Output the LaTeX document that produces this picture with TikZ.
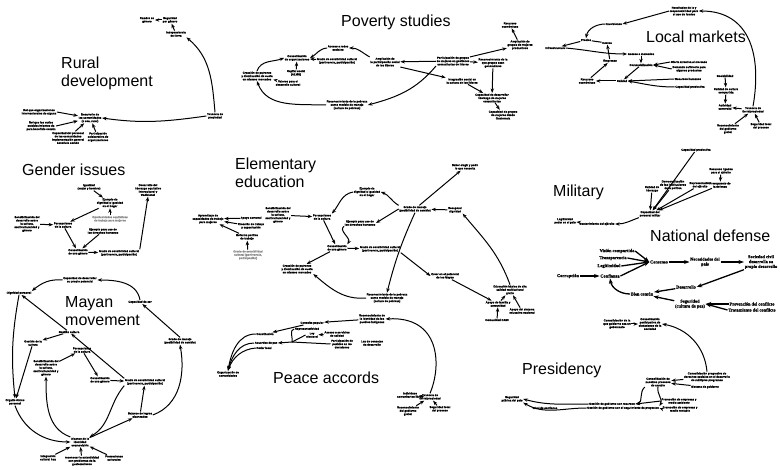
\documentclass[tikz,border=0pt]{standalone}
\usepackage{fontspec}
\setmainfont{Liberation Sans}
\newfontfamily\ndfont{Liberation Serif Bold}[FakeBold=0.6]
\newfontfamily\lbfnt{Liberation Sans Bold}[FakeBold=0.8]
\usetikzlibrary{arrows.meta}
\begin{document}
\begin{tikzpicture}[x=1pt,y=1pt,
 lb/.style={font=\lbfnt\fontsize{2.8}{3.3}\selectfont, align=center, inner sep=0.5pt},
 gl/.style={lb, text=black!45},
 nd/.style={font=\ndfont\fontsize{4.4}{4.9}\selectfont, align=center, inner sep=0.6pt},
 ttl/.style={font=\fontsize{16}{18.4}\selectfont, anchor=base west, inner sep=0pt},
 ar/.style={-{Stealth[length=4.5pt,width=3.4pt]}, line width=1pt},
 arb/.style={-{Stealth[length=5.5pt,width=4pt]}, line width=1.3pt},
 ln/.style={line width=1pt}]
\useasboundingbox (0,0) rectangle (780,-470);
\fill[white] (0,0) rectangle (780,-470);
% ---------------- titles
\node[ttl] (tR1) at (61,-68.2) {Rural};
\node[ttl] (tR2) at (61,-86.5) {development};
\node[ttl] (tP) at (341,-26.5) {Poverty studies};
\node[ttl] (tL) at (646,-42.5) {Local markets};
\node[ttl] (tG) at (22,-176) {Gender issues};
\node[ttl] (tE1) at (235,-170) {Elementary};
\node[ttl] (tE2) at (235,-188) {education};
\node[ttl] (tMi) at (553,-196.5) {Military};
\node[ttl] (tN) at (650,-241.5) {National defense};
\node[ttl] (tM1) at (65,-308) {Mayan};
\node[ttl] (tM2) at (65,-326) {movement};
\node[ttl] (tPa) at (273,-384) {Peace accords};
\node[ttl] (tPr) at (522,-375) {Presidency};
% ---------------- rural development
\node[lb] (r1) at (147,-20) {Cambio en\\género};
\node[lb] (r2) at (170,-20) {Seguridad\\por género};
\node[lb] (r3) at (176,-34) {Independencia\\de tierra};
\node[lb] (r4) at (215,-116) {Tenencia de\\propiedad};
\node[lb] (r5) at (90,-118) {Desarrollo de\\las comunidades\\(o sea, rural)};
\node[lb] (r6) at (39,-112) {Rol que organizaciones\\internacionales de alguna};
\node[lb] (r7) at (41,-126) {Rol que los varios\\establecimientos de\\para beneficio común};
\node[lb] (r8) at (68,-138) {Capacidad del personal\\de las comunidades\\implementación general\\beneficio común};
\node[lb] (r9) at (98,-137) {Participación\\colaborativa de\\organizaciones};
\draw[ar] (r2) -- (r1);
\draw[ar] (r3) -- (r2);
\draw[ar] (r4.north) to[out=95,in=-40] (r3.south east);
\draw[ar] (r4.west) to[out=188,in=-8] (r5.east);
\draw[ar] (r6.east) -- (r5);
\draw[ar] (r7.east) -- (r5);
\draw[ar] (r8) -- (r5);
\draw[ar] (r9) -- (r5);
% ---------------- poverty studies
\node[lb] (p1) at (338,-48) {Acceso a redes\\sociales};
\node[lb] (p2) at (297,-58) {Consolidación\\de organizaciones};
\node[lb] (p3) at (337,-61) {Grado de sensibilidad cultural\\(pertinencia, participación)};
\node[lb] (p4) at (385,-62) {Ampliación de\\la participación social\\de los líderes};
\node[lb] (p5) at (453,-61) {Participación de grupos\\de mujeres en gestiones\\comunitarias de líderes};
\node[lb] (p6) at (296,-73) {Capital social\\(ALMG)};
\node[lb] (p7) at (257,-76) {Creación de patrones\\y disminución de cuota\\en mismos mercados};
\node[lb] (p8) at (288,-83) {Valores para el\\desarrollo cultural};
\node[lb] (p9) at (347,-105) {Reconocimiento de la pobreza\\como modelo de manejo\\(cultura de pobreza)};
\node[lb] (p10) at (510,-25) {Recursos\\económicos};
\node[lb] (p11) at (520,-45) {Ampliación de\\grupos de mujeres\\productivos};
\node[lb] (p12) at (493,-63) {Reconocimiento de la\\que grupos sean\\generadores};
\node[lb] (p13) at (462,-81) {Integración social en\\la cultura de los líderes};
\node[lb] (p14) at (492,-98) {Capacidad de desarrollar\\liderazgo de mujeres\\comunitarias};
\node[lb] (p15) at (503,-115) {Capacidad de grupos\\de mujeres desde\\Guatemala};
\draw[ar] (p4.north west) to[out=150,in=0] (p1.east);
\draw[ar] (p1.west) to[out=185,in=30] (p2.east);
\draw[ar] (p3) -- (p2);
\draw[ar] (p6) -- (p2);
\draw[ar] (p7.north) to[out=70,in=200] (p2.west);
\draw[ar] (p8) -- (p7);
\draw[ar] (p9.west) to[out=178,in=-70] (p7.south);
\draw[ar] (p5.south west) to[out=-130,in=15] (p9.east);
\draw[ar] (p5) -- (p4);
\draw[ar] (p5) -- (p11);
\draw[ar] (p11) -- (p10);
\draw[ar] (p5) -- (p12);
\draw[ar] (p4.south east) -- (p13.north west);
\draw[ar] (p13) -- (p14);
\draw[ar] (p12) -- (p14);
\draw[ar] (p14) -- (p15);
% ---------------- local markets
\node[lb] (l1) at (684,-11) {Resultados de la y\\responsabilidad para\\el uso de fondos};
\node[lb] (l2) at (614,-24) {Inversiones};
\node[lb] (l3) at (586,-40) {Precios};
\node[lb] (l4) at (607,-43) {Costos};
\node[lb] (l5) at (555,-48) {Infraestructura};
\node[lb] (l6) at (641,-54) {Acceso a mercados};
\node[lb] (l7) at (610,-61) {Empresas};
\node[lb] (l8) at (641,-65) {Comercialización};
\node[lb] (l9) at (689,-62) {Oferta atractiva al mercado};
\node[lb] (l10) at (689,-69) {Demanda suficiente para\\algunos productos};
\node[lb] (l11) at (622,-81) {Calidad};
\node[lb] (l12) at (587,-81) {Recursos\\económicos};
\node[lb] (l13) at (688,-79) {Recursos humanos};
\node[lb] (l14) at (690,-87) {Capacidad productiva};
\node[lb] (l15) at (725,-76) {Sociabilidad};
\node[lb] (l16) at (726,-91) {Calidad de cultura\\compartida};
\node[lb] (l17) at (725,-107) {Actividad\\comercial};
\node[lb] (l18) at (753,-110) {Tenencia de\\tierra/propiedad};
\node[lb] (l19) at (728,-129) {Reconocimiento\\del gobierno\\global};
\node[lb] (l20) at (761,-126) {Seguridad local\\del proceso};
\draw[ar] (l1.west) -- (l2.east);
\draw[ar] (l2.west) to[out=180,in=80] (l3.north);
\draw[ar] (l3) -- (l5);
\draw[ln] (l3) -- (l4);
\draw[ar] (l5.east) to[out=-5,in=180] (l6.west);
\draw[ar] (l7) -- (l4);
\draw[ar] (l6) -- (l8);
\draw[ar] (l9.west) -- (l8.east);
\draw[ar] (l10.west) -- (l8.east);
\draw[ar] (l8) -- (l11);
\draw[ar] (l11) -- (l12);
\draw[ar] (l12) -- (l7);
\draw[ar] (l13.west) -- (l11.east);
\draw[ar] (l14.west) to[out=180,in=-10] (l11.east);
\draw[ar] (l15) -- (l16);
\draw[ar] (l16) -- (l17);
\draw[ar] (l18) -- (l17);
\draw[ar] (l19) -- (l18);
\draw[ar] (l20) -- (l18);
\draw[ar] (l18.north) to[out=80,in=0,looseness=1.2] (l1.east);
% ---------------- military
\node[lb] (m1) at (696,-150) {Capacidad productiva};
\node[lb] (m2) at (652,-189) {Calidad de\\liderazgo};
\node[lb] (m3) at (673,-185) {Democratización\\de las instituciones\\de la política};
\node[lb] (m4) at (700,-185) {Representación\\del ejército};
\node[lb] (m5) at (720,-185) {Presupuesto de\\la defensa};
\node[lb] (m6) at (721,-171) {Recursos ligados\\para el ejército};
\node[lb] (m7) at (650,-214) {Capacidad del\\personal militar};
\node[lb] (m8) at (597,-224) {Sostenimiento del ejército};
\node[lb] (m9) at (565,-221) {Legitimidad\\poder en el país};
\draw[ar] (m1) -- (m7);
\draw[ar] (m2) -- (m7);
\draw[ar] (m3) -- (m7);
\draw[ar] (m4) -- (m7);
\draw[ar] (m5) -- (m7);
\draw[ar] (m6) -- (m5);
\draw[ar] (m7.south west) to[out=200,in=0] (m8.east);
\draw[ar] (m8) -- (m9);
% ---------------- national defense
\node[nd] (d1) at (617,-251) {Visión compartida};
\node[nd] (d2) at (613,-258) {Transparencia};
\node[nd] (d3) at (609,-266) {Legitimidad};
\node[nd] (d4) at (610,-276) {Confianza};
\node[nd] (d5) at (659,-262) {Consenso};
\node[nd] (d6) at (705,-262) {Necesidades del\\país};
\node[nd] (d7) at (761,-262) {Sociedad civil\\desarrolla su\\propio desarrollo};
\node[nd] (d8) at (686,-287) {Desarrollo};
\node[nd] (d9) at (642,-294) {Bien común};
\node[nd] (d10) at (690,-304) {Seguridad\\(cultura de paz)};
\node[nd] (d11) at (752,-304) {Prevención del conflicto};
\node[nd] (d12) at (752,-310) {Tratamiento del conflicto};
\node[nd] (d13) at (568,-276) {Corrupción};
\draw[arb] (d1.east) -- (d5.west);
\draw[arb] (d2.east) -- (d5.west);
\draw[arb] (d3.east) -- (d5.west);
\draw[arb] (d4.east) -- (d5.west);
\draw[arb] (d5) -- (d6);
\draw[arb] (d6) -- (d7);
\draw[arb] (d7.south west) -- (d8.east);
\draw[arb] (d8) -- (d9);
\draw[arb] (d9.west) to[out=180,in=-80] (d4.south);
\draw[arb] (d10) -- (d9);
\draw[arb] (d11.west) -- (d10.east);
\draw[arb] (d12.west) -- (d10.east);
\draw[arb] (d13) -- (d4);
% ---------------- gender issues
\node[lb] (g1) at (89,-187) {Igualdad\\(mujer y hombre)};
\node[lb] (g2) at (110,-203) {Ejemplo de\\dignidad e igualdad\\en el hogar};
\node[gl] (g3) at (110,-219) {Oportunidades equitativas\\de trabajo para mujeres};
\node[lb] (g4) at (103,-231) {Ejemplo para uso de\\los derechos humanos};
\node[lb] (g5) at (63,-225) {Percepciones\\de la cultura};
\node[lb] (g6) at (27,-224) {Sensibilización del\\desarrollo sobre\\la cultura,\\multiculturalidad y\\género};
\node[lb] (g7) at (78,-252) {Consolidación\\de una género};
\node[lb] (g8) at (119,-253) {Grado de sensibilidad cultural\\(pertinencia, participación)};
\node[lb] (g9) at (148,-190) {Desarrollo del\\liderazgo equitativo\\intercultural y\\tradicional};
\draw[ar] (g1) -- (g2);
\draw[ar] (g3) -- (g2);
\draw[ar] (g2) -- (g5);
\draw[ar] (g6) -- (g5);
\draw[ar] (g5) -- (g7);
\draw[ar] (g4) -- (g7);
\draw[ar] (g7) -- (g8);
\draw[ar] (g8.north east) -- (g9.south);
% ---------------- mayan movement
\node[lb] (y1) at (80,-280) {Capacidad de desarrollar\\su propio potencial};
\node[lb] (y2) at (19,-293) {Dignidad personal};
\node[lb] (y3) at (140,-302) {Capacidad de ser};
\node[lb] (y4) at (180,-341) {Grado de manejo\\(posibilidad de cambio)};
\node[lb] (y5) at (69,-332) {Gestión cultura};
\node[lb] (y6) at (33,-343) {Gestión de la\\cultura};
\node[lb] (y7) at (82,-350) {Percepciones\\de la cultura};
\node[lb] (y8) at (46,-368) {Sensibilización del\\desarrollo sobre\\la cultura,\\multiculturalidad y\\género};
\node[lb] (y9) at (100,-380) {Consolidación\\de una género};
\node[lb] (y10) at (145,-382) {Grado de sensibilidad cultural\\(pertinencia, participación)};
\node[lb] (y11) at (15,-402) {Orgullo étnico\\personal};
\node[lb] (y12) at (140,-415) {Balance de logros\\alcanzados};
\node[lb] (y13) at (80,-442) {Alcance de la\\identidad\\cosmovisión};
\node[lb] (y14) at (48,-458) {Integración\\cultural hoy};
\node[lb] (y15) at (82,-461) {reconocer la autenticidad\\con problemas de la\\guatemaltecos};
\node[lb] (y16) at (114,-458) {Promociones\\culturales};
\draw[ar] (y3.north) to[out=100,in=0] (y1.east);
\draw[ar] (y1.west) to[out=175,in=40] (y2.north east);
\draw[ar] (y4.north) -- (y3);
\draw[ar] (y10.north west) -- (y5);
\draw[ar] (y5) -- (y2);
\draw[ar] (y5) -- (y6);
\draw[ar] (y8) -- (y7);
\draw[ar] (y7) -- (y9);
\draw[ar] (y9) -- (y10);
\draw[ar] (y2.south) to[bend right=8] (y11.north);
\draw[ar] (y6) -- (y11);
\draw[ar] (y11.south) to[out=-70,in=180] (y13.west);
\draw[ar] (y13.north west) to[out=160,in=-90] (y8.south);
\draw[ar] (y10.south west) to[out=-130,in=30] (y13.north east);
\draw[ar] (y13) -- (y12);
\draw[ar] (y12.east) to[out=20,in=-80] (y4.south);
\draw[ar] (y12) -- (y10);
\draw[ar] (y14) -- (y13);
\draw[ar] (y15) -- (y13);
\draw[ar] (y16) -- (y13);
% ---------------- elementary education
\node[lb] (e1) at (208,-219) {Aprendizaje de\\capacidades de trabajo\\para mujeres};
\node[lb] (e2) at (251,-218) {Apoyo comunal};
\node[lb] (e3) at (251,-226) {Creación de trabajo\\y capacitación};
\node[lb] (e4) at (247,-237) {Reforma política\\de trabajo};
\node[gl] (e5) at (248,-255) {Grado de sensibilidad\\cultural (pertinencia,\\participación)};
\node[lb] (e6) at (278,-215) {Sensibilización del\\desarrollo sobre\\la cultura,\\multiculturalidad y\\género};
\node[lb] (e7) at (322,-217) {Percepciones\\de la cultura};
\node[lb] (e8) at (367,-192) {Ejemplo de\\dignidad e igualdad\\en el hogar};
\node[lb] (e9) at (360,-223) {Ejemplo para uso de\\los derechos humanos};
\node[lb] (e10) at (337,-248) {Consolidación\\de una género};
\node[lb] (e11) at (380,-249) {Grado de sensibilidad cultural\\(pertinencia, participación)};
\node[lb] (e12) at (297,-269) {Creación de patrones\\y disminución de cuota\\en mismos mercados};
\node[lb] (e13) at (387,-298) {Reconocimiento de la pobreza\\como modelo de manejo\\(cultura de pobreza)};
\node[lb] (e14) at (415,-209) {Grado de manejo\\(posibilidad de cambio)};
\node[lb] (e15) at (465,-167) {Saber elegir y pedir\\lo que necesita};
\node[lb] (e16) at (455,-210) {Recuperar\\dignidad};
\node[lb] (e17) at (445,-276) {Creer en el potencial\\de los Mayas};
\node[lb] (e18) at (498,-304) {Apoyo de familia y\\comunidad};
\node[lb] (e19) at (510,-290) {Educación básica de alta\\calidad multicultural\\gratis};
\node[lb] (e20) at (522,-311) {Apoyo del sistema\\educativo nacional};
\node[lb] (e21) at (497,-320) {Comunidad CAMI};
\draw[ar] (e2) -- (e1);
\draw[ar] (e3) -- (e1);
\draw[ar] (e4) -- (e1);
\draw[ar] (e5) -- (e4);
\draw[ar] (e6) -- (e7);
\draw[ar] (e8.west) to[out=190,in=50] (e7.north east);
\draw[ar] (e14.north west) to[out=150,in=-20] (e8.east);
\draw[ar] (e14.west) -- (e9.east);
\draw[ar] (e9.south west) to[out=-150,in=60] (e10.north east);
\draw[ar] (e7) -- (e10);
\draw[ar] (e10) -- (e11);
\draw[ar] (e10) -- (e12);
\draw[ar] (e13.west) to[out=185,in=-40] (e12.south east);
\draw[ar] (e14) -- (e15);
\draw[ar] (e16) -- (e14);
\draw[ar] (e14.south) to[bend right=5] (e13.north);
\draw[ar] (e11.south east) -- (e17.west);
\draw[ar] (e17) -- (e18);
\draw[ar] (e19.north) to[out=110,in=-50] (e16.south east);
\draw[ar] (e18) -- (e19);
\draw[ar] (e20) -- (e19);
\draw[ar] (e21) -- (e18);
% ---------------- peace accords
\node[lb] (c1) at (372,-319) {Reconocimiento de\\la identidad de los\\pueblos indígenas};
\node[lb] (c2) at (312,-323) {Consulta popular};
\node[lb] (c3) at (265,-334) {Constitución};
\node[lb] (c4) at (307,-329) {Representatividad};
\node[lb] (c5) at (312,-335) {Ley\\electoral};
\node[lb] (c11) at (337,-334) {Acceso a servicios\\de calidad};
\node[lb] (c6) at (342,-344) {Participación de\\pueblos en las\\decisiones};
\node[lb] (c7) at (372,-343) {Ley de consejos\\de desarrollo};
\node[lb] (c8) at (266,-343) {Acuerdos de paz};
\node[lb] (c9) at (264,-348) {Poder local};
\node[lb] (c10) at (228,-374) {Organización de\\comunidades};
\coordinate (hub) at (292,-342);
\draw[ar] (c1) -- (c2);
\draw[ar] (c2) -- (c3);
\draw[ln] (c4.west) to[out=190,in=80] (hub);
\draw[ln] (c5.west) -- (hub);
\draw[ln] (c6.west) -- (hub);
\draw[ar] (hub) -- (c8.east);
\draw[ar] (c11) -- (c5);
\draw[ar] (c3.west) to[out=180,in=80] (c10.north);
\draw[ar] (c8.west) to[out=180,in=75] (c10.north);
\draw[ar] (c9.west) to[out=185,in=70] (c10.north);
% ---------------- land tenure (peace)
\node[lb] (t1) at (410,-395) {Individuos\\comunitarios libres};
\node[lb] (t2) at (430,-397) {Tenencia de\\tierra/propiedad};
\node[lb] (t3) at (408,-411) {Reconocimiento\\del gobierno\\global};
\node[lb] (t4) at (440,-409) {Seguridad local\\del proceso};
\draw[ar] (t1) -- (t2);
\draw[ar] (t3) -- (t2);
\draw[ar] (t4) -- (t2);
\draw[ar] (t2.north) .. controls (442,-365) and (440,-316) .. (c1.east);
% ---------------- presidency
\node[lb] (q1) at (512,-399) {Seguridad\\pública del país};
\node[lb] (q2) at (545,-408) {Nivel de confianza};
\node[lb] (q3) at (612,-404) {Gestión de gobierno con recursos};
\node[lb] (q4) at (623,-408) {Gestión de gobierno con el seguimiento de proyectos};
\node[lb] (q5) at (679,-401) {Promoción de empresas y\\medio ambiente};
\node[lb] (q6) at (680,-409) {Promoción de empresas y\\medio rentable};
\node[lb] (q7) at (658,-382) {Consolidación de\\nuestros procesos\\de cambio};
\node[lb] (q8) at (707,-377) {Consolidación progresiva de\\derechos sociales en el desarrollo\\de múltiples programas};
\node[lb] (q9) at (705,-387) {Sistema de gobierno};
\node[lb] (q10) at (617,-324) {Consolidación de la\\que gobierno sea un\\gobernante};
\node[lb] (q11) at (650,-324) {Consolidación\\participativa de\\ciudadanos de la\\sociedad};
\draw[ar] (q10) -- (q11);
\draw[ar] (q8.north) to[out=95,in=-10] (q11.east);
\draw[ar] (q8) -- (q7);
\draw[ar] (q9) -- (q7);
\draw[ar] (q7.south west) to[out=-140,in=10] (q3.east);
\draw[ar] (q7.south) to[out=-100,in=60] (q4.north east);
\draw[ar] (q5.west) -- (q3.east);
\draw[ar] (q6.west) -- (q4.east);
\draw[ar] (q3.west) to[out=180,in=-15] (q1.east);
\draw[ar] (q4.west) to[out=180,in=-30] (q1.south east);
\end{tikzpicture}
\end{document}
